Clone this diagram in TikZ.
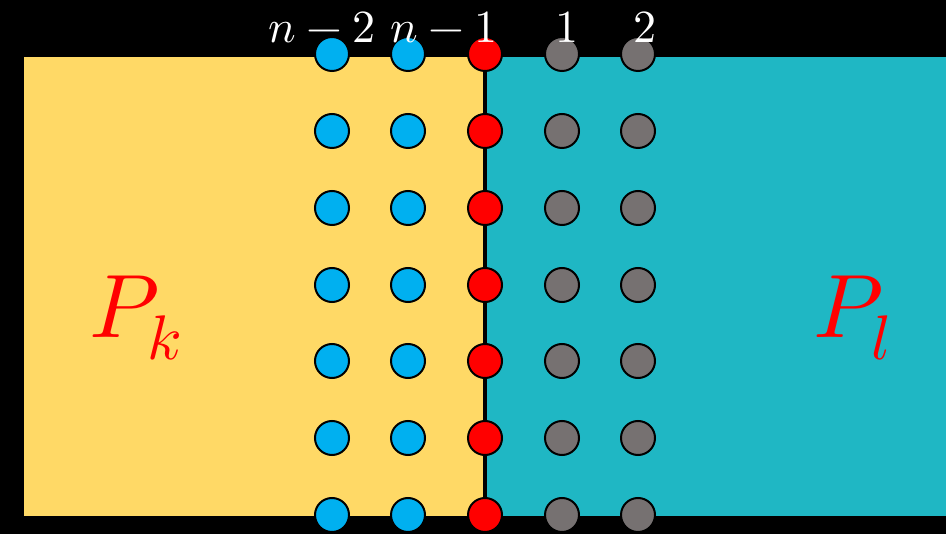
\documentclass[tikz,border=0pt]{standalone}
\usepackage{unicode-math}
\setmathfont{Latin Modern Math}
\usepackage{tikz}
\definecolor{yel}{RGB}{255,217,102}
\definecolor{tea}{RGB}{31,183,196}
\definecolor{blu}{RGB}{0,176,240}
\definecolor{gra}{RGB}{118,113,113}
\begin{document}
\begin{tikzpicture}[x=1pt,y=-1pt,
  dot/.style={circle,draw=black,line width=2pt,minimum size=34pt,inner sep=0pt},
  toplabel/.style={text=white,font=\fontsize{46}{50}\selectfont,anchor=base,inner sep=0pt},
  plabel/.style={text=red,font=\fontsize{90}{96}\selectfont,inner sep=0pt}]
\fill[black] (0,0) rectangle (946,534);
\useasboundingbox (0,0) rectangle (946,534);
\fill[yel] (24,57) rectangle (485,516);
\fill[tea] (485,57) rectangle (946,516);
\coordinate (ltop) at (485,57);
\coordinate (lbot) at (485,516);
\draw[black,line width=4.5pt] (ltop) -- (lbot);
\foreach \r/\y in {1/54,2/131,3/208,4/285,5/361,6/438,7/515}{
  \node[dot,fill=blu] (b1-\r) at (332,\y) {};
  \node[dot,fill=blu] (b2-\r) at (408,\y) {};
  \node[dot,fill=red] (r-\r) at (485,\y) {};
  \node[dot,fill=gra] (g1-\r) at (562,\y) {};
  \node[dot,fill=gra] (g2-\r) at (638,\y) {};
}
\node[toplabel] (ln2) at (322,43) {$n-2$};
\node[toplabel] (ln1) at (444,43) {$n-1$};
\node[toplabel] (l1) at (567,43) {$1$};
\node[toplabel] (l2) at (645,43) {$2$};
\node[plabel] (pk) at (136,318) {$P_k$};
\node[plabel] (pl) at (852,318) {$P_l$};
\end{tikzpicture}
\end{document}
